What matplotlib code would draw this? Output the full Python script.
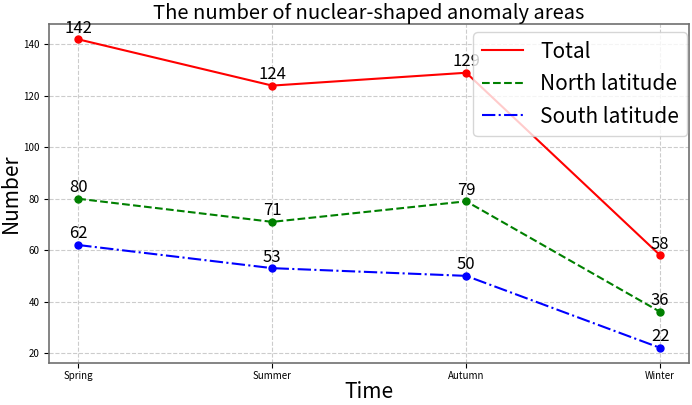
import numpy as np
import matplotlib.pyplot as plt

plt.rcParams['font.family'] = ['Noto Sans CJK SC', 'DejaVu Sans']

seasons = ["Spring", "Summer", "Autumn", "Winter"]
total = [142, 124, 129, 58]
north = [80, 71, 79, 36]
south = [62, 53, 50, 22]

fig = plt.figure(figsize=(6.92, 4.05), dpi=100)
ax = fig.add_axes([0.071, 0.103, 0.925, 0.838])

x = np.arange(len(seasons))
ax.plot(x, total, color='r', linestyle='-', label="Total")
ax.plot(x, total, 'o', color='r', ms=5)
ax.plot(x, north, color='g', linestyle='--', label="North latitude")
ax.plot(x, north, 'o', color='g', ms=5)
ax.plot(x, south, color='b', linestyle='-.', label="South latitude")
ax.plot(x, south, 'o', color='b', ms=5)

# value labels above each point
for ys in (total, north, south):
    for a, b in zip(x, ys):
        ax.text(a, b + 1, str(b), ha='center', va='bottom', fontsize=12)

ax.set_xticks(x)
ax.set_xticklabels(seasons, fontsize=7)
ax.tick_params(axis='y', labelsize=7)
ax.tick_params(axis='x', pad=2)
ax.set_xlabel("Time", fontsize=15, labelpad=0)
ax.set_ylabel("Number", fontsize=15, labelpad=1)
ax.set_title("The number of nuclear-shaped anomaly areas", fontsize=14.5, pad=1)
ax.grid(True, linestyle='--', color='#cccccc', linewidth=0.8)
for s in ax.spines.values():
    s.set_color('#707070')
    s.set_linewidth(1.2)
ax.legend(loc='upper right', fontsize=15, handlelength=2.0,
          bbox_to_anchor=(0.997, 0.975), borderaxespad=0)

fig.savefig("out.png", dpi=100)
